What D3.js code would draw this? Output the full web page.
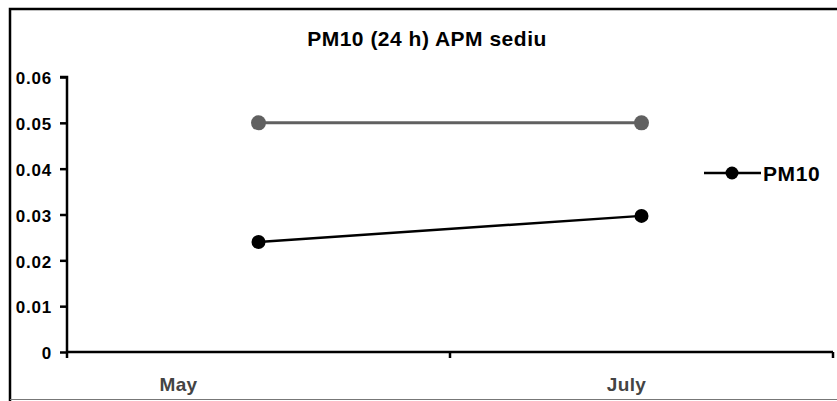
<!DOCTYPE html>
<html>
<head>
<meta charset="utf-8">
<script src="https://cdn.jsdelivr.net/npm/d3@7"></script>
<style>
  body { margin: 0; background: #fff; }
  text { font-family: "Liberation Sans", Arial, sans-serif; font-weight: bold; }
</style>
</head>
<body>
<svg id="chart" width="837" height="401"></svg>
<script>
// data
let months = ['May', 'July'];
let pm10 = [0.024, 0.0297];
let limit = [0.05, 0.05];
let yTicks = [0, 0.01, 0.02, 0.03, 0.04, 0.05, 0.06];
let title = 'PM10 (24 h) APM sediu';
let seriesName = 'PM10';

let width = 837;
let height = 401;
let margin = { top: 77, right: 4, bottom: 49, left: 67 };

let svg = d3.select('#chart');

// frame round the whole chart
svg.append('path')
    .attr('d', 'M10,401 L10,9 L837,9')
    .attr('fill', 'none')
    .attr('stroke', '#000')
    .attr('stroke-width', 2.5);
svg.append('line')
    .attr('x1', 10).attr('x2', 837)
    .attr('y1', 399.5).attr('y2', 399.5)
    .attr('stroke', '#777').attr('stroke-width', 1);

let x = d3.scaleBand()
    .domain(months)
    .range([margin.left, width - margin.right]);

let y = d3.scaleLinear()
    .domain([0, 0.06])
    .range([height - margin.bottom, margin.top]);

// y axis
let yAxis = svg.append('g')
    .attr('transform', 'translate(' + margin.left + ',0)')
    .call(d3.axisLeft(y).tickValues(yTicks).tickSize(7).tickPadding(8)
        .tickFormat(d => d === 0 ? '0' : d3.format('.2f')(d)));
yAxis.select('.domain').attr('stroke-width', 2.5).attr('d', 'M-7,' + y(0.06) + 'H0V' + y(0));
yAxis.selectAll('.tick line').attr('stroke-width', 2.5);
yAxis.selectAll('.tick text')
    .attr('font-size', 17).attr('fill', '#000')
    .attr('font-family', '"Liberation Sans", Arial, sans-serif')
    .attr('font-weight', 'bold')
    .attr('letter-spacing', 0.8)
    .attr('dy', '0.4em');

// x axis: ticks on the band boundaries
let boundaries = [x.range()[0]].concat(months.map(m => x(m) + x.bandwidth()));
let xAxis = svg.append('g');
xAxis.append('line')
    .attr('x1', x.range()[0]).attr('x2', x.range()[1])
    .attr('y1', y(0)).attr('y2', y(0))
    .attr('stroke', '#000').attr('stroke-width', 2.5);
xAxis.selectAll('.xtick')
    .data(boundaries)
    .join('line')
    .attr('class', 'xtick')
    .attr('x1', d => d).attr('x2', d => d)
    .attr('y1', y(0)).attr('y2', y(0) + 6)
    .attr('stroke', '#000').attr('stroke-width', 2.5);

// month labels sit left of the band centres
let labelShift = { 'May': -80, 'July': -15 };
xAxis.selectAll('.xlabel')
    .data(months)
    .join('text')
    .attr('class', 'xlabel')
    .attr('x', d => x(d) + x.bandwidth() / 2 + labelShift[d])
    .attr('y', y(0) + 39)
    .attr('text-anchor', 'middle')
    .attr('font-size', 19)
    .attr('letter-spacing', 0.4)
    .attr('fill', '#444')
    .text(d => d);

// title
svg.append('text')
    .attr('x', 427)
    .attr('y', 46)
    .attr('text-anchor', 'middle')
    .attr('font-size', 21)
    .attr('letter-spacing', 0.5)
    .attr('fill', '#000')
    .text(title);

let line = d3.line()
    .x(d => x(d.month) + x.bandwidth() / 2)
    .y(d => y(d.value));

function drawSeries(values, color, width, r) {
    let pts = months.map((m, i) => ({ month: m, value: values[i] }));
    svg.append('path')
        .datum(pts)
        .attr('d', line)
        .attr('fill', 'none')
        .attr('stroke', color)
        .attr('stroke-width', width);
    svg.selectAll(null)
        .data(pts)
        .join('circle')
        .attr('cx', d => x(d.month) + x.bandwidth() / 2)
        .attr('cy', d => y(d.value))
        .attr('r', r)
        .attr('fill', color);
}

drawSeries(limit, '#606060', 3, 7.5);
drawSeries(pm10, '#000', 2.5, 7);

// legend
let legend = svg.append('g').attr('transform', 'translate(704,173)');
legend.append('line')
    .attr('x1', 0).attr('x2', 57)
    .attr('stroke', '#000').attr('stroke-width', 2.5);
legend.append('circle')
    .attr('cx', 28).attr('r', 6.5)
    .attr('fill', '#000');
legend.append('text')
    .attr('x', 59).attr('y', 7.5)
    .attr('font-size', 21)
    .attr('letter-spacing', 0.6)
    .attr('fill', '#000')
    .text(seriesName);
</script>
</body>
</html>
